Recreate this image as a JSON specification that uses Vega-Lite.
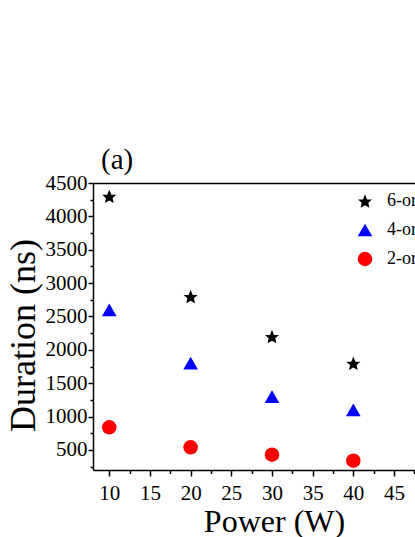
{
  "$schema": "https://vega.github.io/schema/vega-lite/v6.json",
  "autosize": "none",
  "padding": {"left": 93, "top": 183, "right": 0, "bottom": 67},
  "width": 322,
  "height": 287,
  "title": {"text": "(a)", "anchor": "start", "frame": "group", "font": "Liberation Serif", "fontSize": 29, "fontWeight": "normal", "color": "black", "baseline": "alphabetic", "offset": -26, "dx": 8},
  "data": {"values": [
    {"Power": 10, "Duration": 4300, "Series": "6-order"},
    {"Power": 20, "Duration": 2800, "Series": "6-order"},
    {"Power": 30, "Duration": 2200, "Series": "6-order"},
    {"Power": 40, "Duration": 1800, "Series": "6-order"},
    {"Power": 10, "Duration": 2600, "Series": "4-order"},
    {"Power": 20, "Duration": 1800, "Series": "4-order"},
    {"Power": 30, "Duration": 1300, "Series": "4-order"},
    {"Power": 40, "Duration": 1100, "Series": "4-order"},
    {"Power": 10, "Duration": 840, "Series": "2-order"},
    {"Power": 20, "Duration": 540, "Series": "2-order"},
    {"Power": 30, "Duration": 430, "Series": "2-order"},
    {"Power": 40, "Duration": 340, "Series": "2-order"}
  ]},
  "layer": [
    {
      "mark": {"type": "point", "filled": true, "opacity": 1, "strokeWidth": 0},
      "encoding": {
        "x": {"field": "Power", "type": "quantitative",
          "scale": {"domain": [8, 47.58], "nice": false, "zero": false},
          "axis": {"orient": "bottom", "values": [10, 15, 20, 25, 30, 35, 40, 45], "tickSize": 6, "labelPadding": 6, "title": "Power (W)", "titleX": 181, "titleY": 61, "titleBaseline": "alphabetic", "titleFontSize": 32}},
        "y": {"field": "Duration", "type": "quantitative",
          "scale": {"domain": [200, 4500], "nice": false, "zero": false},
          "axis": {"orient": "left", "format": "d", "values": [500, 1000, 1500, 2000, 2500, 3000, 3500, 4000, 4500], "tickSize": 5, "labelPadding": 1, "title": "Duration (ns)", "titleX": -59, "titleY": 152, "titleBaseline": "alphabetic", "titleFontSize": 36}},
        "color": {"field": "Series", "type": "nominal",
          "scale": {"domain": ["6-order", "4-order", "2-order"], "range": ["#000000", "#0000ff", "#ff0000"]},
          "legend": {"title": null, "orient": "none", "legendX": 263, "legendY": 9}},
        "shape": {"field": "Series", "type": "nominal",
          "scale": {"domain": ["6-order", "4-order", "2-order"], "range": ["M0,-0.9045L0.2763,-0.2135L0.9511,-0.2135L0.4470,0.2417L0.5878,0.9045L0,0.5653L-0.5878,0.9045L-0.4470,0.2417L-0.9511,-0.2135L-0.2763,-0.2135Z", "triangle-up", "circle"]},
          "legend": {"title": null, "orient": "none", "legendX": 263, "legendY": 9}},
        "size": {"field": "Series", "type": "nominal",
          "scale": {"domain": ["6-order", "4-order", "2-order"], "range": [220, 210, 130]},
          "legend": {"title": null, "orient": "none", "legendX": 263, "legendY": 9}}
      }
    },
    {
      "mark": {"type": "point", "opacity": 0},
      "encoding": {
        "x": {"field": "Power", "type": "quantitative",
          "axis": {"orient": "bottom", "values": [12.5, 17.5, 22.5, 27.5, 32.5, 37.5, 42.5, 47.5], "tickSize": 3.5, "labels": false, "domain": false, "title": null}},
        "y": {"field": "Duration", "type": "quantitative",
          "axis": {"orient": "left", "values": [250, 750, 1250, 1750, 2250, 2750, 3250, 3750, 4250], "tickSize": 3, "labels": false, "domain": false, "title": null}}
      }
    },
    {
      "mark": {"type": "point", "opacity": 0},
      "encoding": {
        "x": {"field": "Power", "type": "quantitative",
          "axis": {"orient": "top", "ticks": false, "labels": false, "domain": true, "title": null}}
      }
    }
  ],
  "resolve": {"axis": {"x": "independent", "y": "independent"}},
  "config": {
    "view": {"stroke": null},
    "axis": {"grid": false, "domainColor": "black", "domainWidth": 1.5, "tickColor": "black", "tickWidth": 1.5,
      "labelFont": "Liberation Serif", "labelFontSize": 21, "labelColor": "black",
      "titleFont": "Liberation Serif", "titleFontWeight": "normal", "titleColor": "black"},
    "legend": {"labelFont": "Liberation Serif", "labelFontSize": 18, "labelColor": "black", "symbolStrokeWidth": 0, "rowPadding": 11, "labelOffset": 13, "padding": 0}
  }
}
